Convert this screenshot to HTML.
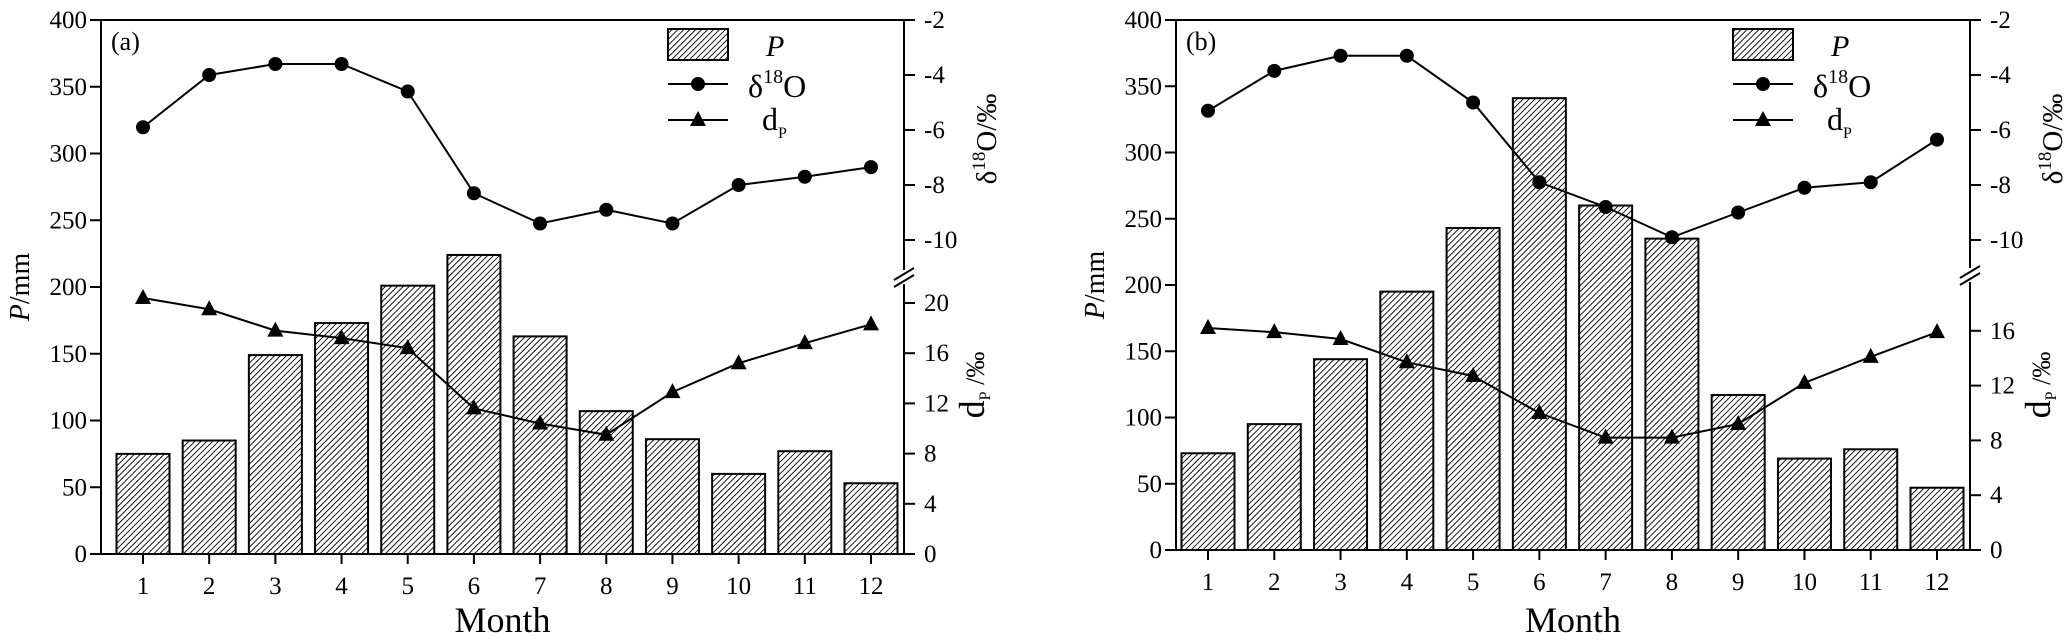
<!DOCTYPE html>
<html><head><meta charset="utf-8"><style>
html,body{margin:0;padding:0;background:#fff}
svg{display:block}
text{font-family:"Liberation Serif",serif;fill:#000}
</style></head><body>
<svg id="chart" width="2067" height="640" viewBox="0 0 2067 640" xmlns="http://www.w3.org/2000/svg">
<defs>
<pattern id="hatch" patternUnits="userSpaceOnUse" width="4.2" height="4.2" patternTransform="rotate(45)">
<rect width="4.2" height="4.2" fill="#fff"/><line x1="0" y1="0" x2="0" y2="4.2" stroke="#000" stroke-width="1.8"/>
</pattern>
</defs>
</svg>
<script>
const months=[1,2,3,4,5,6,7,8,9,10,11,12];
const pA=[75,85,149,173,201,224,163,107,86,60,77,53];
const oA=[-5.9,-4.0,-3.6,-3.6,-4.6,-8.3,-9.4,-8.9,-9.4,-8.0,-7.7,-7.35];
const dA=[20.4,19.5,17.8,17.2,16.4,11.6,10.4,9.5,12.9,15.2,16.8,18.3];
const pB=[73,95,144,195,243,341,260,235,117,69,76,47];
const oB=[-5.3,-3.85,-3.3,-3.3,-5.0,-7.9,-8.8,-9.9,-9.0,-8.1,-7.9,-6.35];
const dB=[16.2,15.9,15.4,13.7,12.7,10.0,8.2,8.2,9.2,12.2,14.1,15.9];
const pTicks=[0,50,100,150,200,250,300,350,400];
const oTicks=[-2,-4,-6,-8,-10];
const dTicksA=[0,4,8,12,16,20];
const dTicksB=[0,4,8,12,16];

const svg=document.getElementById('chart');
const NS='http://www.w3.org/2000/svg';
function el(tag,attrs,parent,txt){const e=document.createElementNS(NS,tag);for(const k in attrs)e.setAttribute(k,attrs[k]);if(txt!==undefined)e.textContent=txt;(parent||svg).appendChild(e);return e;}

function panel(cfg){
  const g=el('g',{});
  
  
  const L=cfg.L,R=cfg.R,T=20,B=cfg.B;
  const x0=cfg.x1, dx=(cfg.x12-cfg.x1)/11;
  const X=m=>x0+(m-1)*dx;
  const Yp=v=>B-(B-T)*v/400;
  const Yo=v=>T+(-2-v)*cfg.oScale;
  const Yd=v=>B-v*cfg.dScale;
  const bw=53;
  cfg.p.forEach((v,i)=>{
    const r=el('rect',{x:X(months[i])-bw/2,y:Yp(v),width:bw,height:B-Yp(v),fill:'url(#hatch)',stroke:'#000','stroke-width':2},g);
    
    
  });
  const fr=el('path',{d:`M${L},${B}L${L},${T}L${R},${T}M${L},${B}L${R},${B}M${R},${T}L${R},${cfg.brk-6}M${R},${cfg.brk+8}L${R},${B}`,stroke:'#000','stroke-width':2,fill:'none'},g);
  
  
  const bk=el('path',{d:`M${R-10},${cfg.brk+4}L${R+10},${cfg.brk-8}M${R-10},${cfg.brk+11}L${R+10},${cfg.brk-1}`,stroke:'#000','stroke-width':2,fill:'none'},g);
  
  
  pTicks.forEach(v=>{
    el('line',{x1:L-11,x2:L,y1:Yp(v),y2:Yp(v),stroke:'#000','stroke-width':2},g);
    const t=el('text',{x:L-14,y:Yp(v)+8,'text-anchor':'end','font-size':25},g,v);
    
    
  });
  oTicks.forEach(v=>{
    el('line',{x1:R,x2:R+11,y1:Yo(v),y2:Yo(v),stroke:'#000','stroke-width':2},g);
    const t=el('text',{x:R+20,y:Yo(v)+8,'font-size':25},g,v);
    
    
  });
  cfg.dTicks.forEach(v=>{
    el('line',{x1:R,x2:R+11,y1:Yd(v),y2:Yd(v),stroke:'#000','stroke-width':2},g);
    const t=el('text',{x:R+20,y:Yd(v)+8,'font-size':25},g,v);
    
    
  });
  months.forEach(m=>{
    el('line',{x1:X(m),x2:X(m),y1:B,y2:B+10,stroke:'#000','stroke-width':2},g);
    const t=el('text',{x:X(m),y:B+40,'text-anchor':'middle','font-size':25},g,m);
    
    
  });
  const lo=el('polyline',{points:cfg.o.map((v,i)=>X(months[i])+','+Yo(v)).join(' '),fill:'none',stroke:'#000','stroke-width':2},g);
  
  
  cfg.o.forEach((v,i)=>{
    const c=el('circle',{cx:X(months[i]),cy:Yo(v),r:7,fill:'#000'},g);
    
    
  });
  const ld=el('polyline',{points:cfg.d.map((v,i)=>X(months[i])+','+Yd(v)).join(' '),fill:'none',stroke:'#000','stroke-width':2},g);
  
  
  cfg.d.forEach((v,i)=>{
    const x=X(months[i]),y=Yd(v);
    const p=el('polygon',{points:`${x},${y-9} ${x-8},${y+6} ${x+8},${y+6}`,fill:'#000'},g);
    
    
  });
  const pl=el('text',{x:L+10,y:50,'font-size':26},g,cfg.label);
  
  
  const lx=cfg.legX;
  const lg=el('g',{},g);
  
  
  el('rect',{x:lx,y:29,width:60,height:31,fill:'url(#hatch)',stroke:'#000','stroke-width':2},lg);
  el('text',{x:lx+98,y:56,'font-size':30,'font-style':'italic'},lg,'P');
  el('line',{x1:lx,x2:lx+60,y1:84,y2:84,stroke:'#000','stroke-width':2},lg);
  el('circle',{cx:lx+30,cy:84,r:7,fill:'#000'},lg);
  const t1=el('text',{x:lx+80,y:97,'font-size':32},lg,'δ');
  el('tspan',{dy:-14,'font-size':20},t1,'18');
  el('tspan',{dy:14},t1,'O');
  el('line',{x1:lx,x2:lx+60,y1:120,y2:120,stroke:'#000','stroke-width':2},lg);
  el('polygon',{points:`${lx+30},${111} ${lx+22},${126} ${lx+38},${126}`,fill:'#000'},lg);
  const t2=el('text',{x:lx+94,y:130,'font-size':32},lg,'d');
  el('tspan',{dy:8,'font-size':16},t2,'P');
  const yt=el('text',{transform:`translate(${L-72},${(T+B)/2}) rotate(-90)`,'text-anchor':'middle','font-size':28},g);
  el('tspan',{'font-style':'italic'},yt,'P');
  el('tspan',{},yt,'/mm');
  
  
  const ot=el('text',{transform:`translate(${R+92},139) rotate(-90)`,'text-anchor':'middle','font-size':29},g);
  el('tspan',{},ot,'δ');
  el('tspan',{dy:-11,'font-size':19},ot,'18');
  el('tspan',{dy:11},ot,'O/‰');
  
  
  const dt=el('text',{transform:`translate(${R+80},${cfg.dTitleY}) rotate(-90)`,'text-anchor':'middle','font-size':36},g);
  el('tspan',{},dt,'d');
  el('tspan',{dy:6,'font-size':16},dt,'P');
  el('tspan',{dy:-6,'font-size':26},dt,' /‰');
  
  
  const xt=el('text',{x:(L+R)/2,y:632,'text-anchor':'middle','font-size':36},g,'Month');
  
  
}
panel({name:'panel-a',label:'(a)',L:101,R:904,B:554,x1:143,x12:871,oScale:27.5,dScale:12.55,brk:276,dTicks:dTicksA,p:pA,o:oA,d:dA,legX:668,dTitleY:385});
panel({name:'panel-b',label:'(b)',L:1176,R:1970,B:550,x1:1208,x12:1937,oScale:27.5,dScale:13.7,brk:274,dTicks:dTicksB,p:pB,o:oB,d:dB,legX:1733,dTitleY:385});
</script>
</body></html>
